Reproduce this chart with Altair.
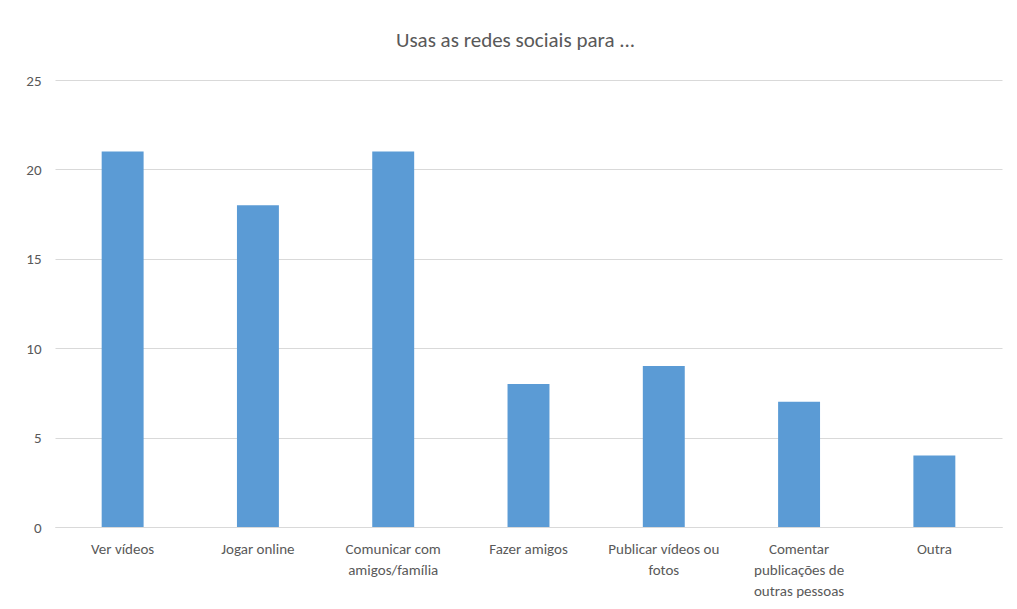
import altair as alt
import pandas as pd

categories = ["Ver vídeos", "Jogar online", "Comunicar com amigos/família", "Fazer amigos",
              "Publicar vídeos ou fotos", "Comentar publicações de outras pessoas", "Outra"]
values = [21, 18, 21, 8, 9, 7, 4]
label_lines = {
    "Comunicar com amigos/família": ["Comunicar com", "amigos/família"],
    "Publicar vídeos ou fotos": ["Publicar vídeos ou", "fotos"],
    "Comentar publicações de outras pessoas": ["Comentar", "publicações de", "outras pessoas"],
}
y_ticks = [0, 5, 10, 15, 20, 25]

df = pd.DataFrame({"cat": categories, "val": values})

expr = "datum.label"
for k, v in label_lines.items():
    arr = "[" + ",".join("'" + s + "'" for s in v) + "]"
    expr = f"datum.label == '{k}' ? {arr} : ({expr})"

FONT = "Carlito, Liberation Sans Narrow, Liberation Sans"
GRAY = "#595959"

chart = alt.Chart(df).mark_bar(color="#5B9BD5").encode(
    x=alt.X("cat:N", sort=categories, title=None,
            scale=alt.Scale(paddingInner=0.69, paddingOuter=0.345),
            axis=alt.Axis(labelAngle=0, labelExpr=expr, ticks=False, domain=True,
                          domainColor="#d9d9d9", labelColor=GRAY, labelFontSize=15,
                          labelFont=FONT, labelPadding=14, labelLineHeight=21,
                          labelBaseline="top")),
    y=alt.Y("val:Q", title=None,
            scale=alt.Scale(domain=[0, 25]),
            axis=alt.Axis(values=y_ticks, ticks=False, domain=False, grid=True,
                          gridColor="#d9d9d9", labelColor=GRAY, labelFontSize=15,
                          labelFont=FONT, labelPadding=14)),
).properties(
    width=947, height=447,
    title=alt.Title("Usas as redes sociais para ...", fontSize=21, font=FONT,
                    color=GRAY, fontWeight="normal", anchor="middle", offset=22, dx=-13),
    autosize=alt.AutoSizeParams(type="none"),
    padding={"left": 47, "top": 72, "right": 7, "bottom": 80},
).configure_view(stroke=None)

chart.save("out.html", embed_options={"renderer": "svg", "actions": False})
